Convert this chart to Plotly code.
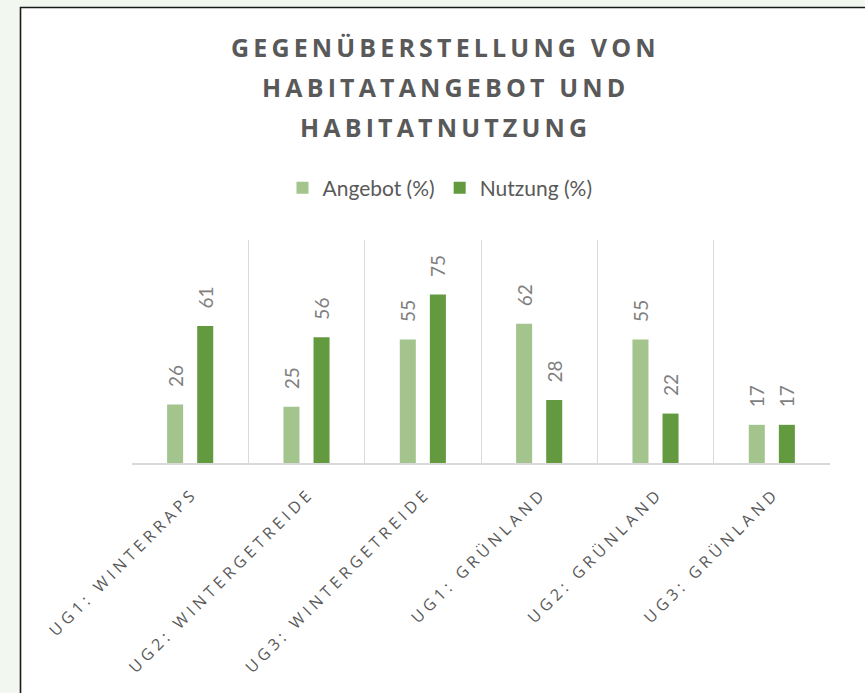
import plotly.graph_objects as go

categories = ["UG1: WINTERRAPS", "UG2: WINTERGETREIDE", "UG3: WINTERGETREIDE",
              "UG1: GRÜNLAND", "UG2: GRÜNLAND", "UG3: GRÜNLAND"]
angebot = [26, 25, 55, 62, 55, 17]
nutzung = [61, 56, 75, 28, 22, 17]
series_names = ["Angebot (%)", "Nutzung (%)"]
title_lines = ["GEGENÜBERSTELLUNG VON", "HABITATANGEBOT UND", "HABITATNUTZUNG"]

TS = "\u2009"
HS = "\u200a"
NB = "\u00a0"


def spaced(s, sep):
    return sep.join(list(s))


cat_labels = [spaced(c, TS + HS) for c in categories]

W, H = 865, 693
L, R, T, B = 132, 35, 240, 230
PW, PH = W - L - R, H - T - B


def px_x(px):
    return (px - L) / PW


def px_y(py):
    return (H - B - py) / PH


fig = go.Figure()
colors = ["#a4c48e", "#63993f"]
for name, vals, col in zip(series_names, [angebot, nutzung], colors):
    fig.add_trace(go.Bar(
        x=cat_labels, y=vals, name=name, marker_color=col,
        marker_line_width=0,
        text=[NB * 3 + str(v) for v in vals], textposition="outside", textangle=-90,
        constraintext="none",
        textfont=dict(family="Lato", size=19, color="#7f7f7f"),
        cliponaxis=False,
    ))

# frame
fig.add_shape(type="rect", xref="paper", yref="paper",
              x0=px_x(20.5), x1=px_x(880), y0=px_y(710), y1=px_y(7.5),
              fillcolor="white", line=dict(color="#1a1a1a", width=1.6), layer="below")

for i, line in enumerate(title_lines):
    fig.add_annotation(
        text="<b>" + spaced(line, TS) + "</b>",
        xref="paper", yref="paper", x=px_x(443), y=px_y(47 + 40 * i),
        xanchor="center", yanchor="middle", showarrow=False,
        font=dict(family="Open Sans", size=25, color="#595959"),
    )

fig.update_layout(
    width=W, height=H,
    margin=dict(l=L, r=R, t=T, b=B, autoexpand=False),
    paper_bgcolor="#f2f7ef", plot_bgcolor="rgba(0,0,0,0)",
    barmode="group", bargap=0.483, bargroupgap=0.467,
    showlegend=True,
    legend=dict(orientation="h", x=px_x(440), xanchor="center", y=px_y(188), yanchor="middle",
                font=dict(family="Lato", size=21, color="#595959"),
                bgcolor="rgba(0,0,0,0)", itemwidth=30, traceorder="normal"),
    font=dict(family="Open Sans", color="#595959"),
)
fig.update_xaxes(
    type="category", tickangle=-45, tickson="boundaries", showgrid=True,
    gridcolor="#d9d9d9", gridwidth=1, showline=True, linecolor="#d9d9d9", linewidth=1.5,
    ticks="", ticklabelstandoff=16,
    tickfont=dict(family="Open Sans", size=16, color="#595959"),
)
fig.update_yaxes(range=[0, 99.3], visible=False, showgrid=False, zeroline=False)

fig.write_html("out.html", config={"displayModeBar": False},
               post_script="document.body.style.margin='0';document.body.style.background='#f2f7ef';")
